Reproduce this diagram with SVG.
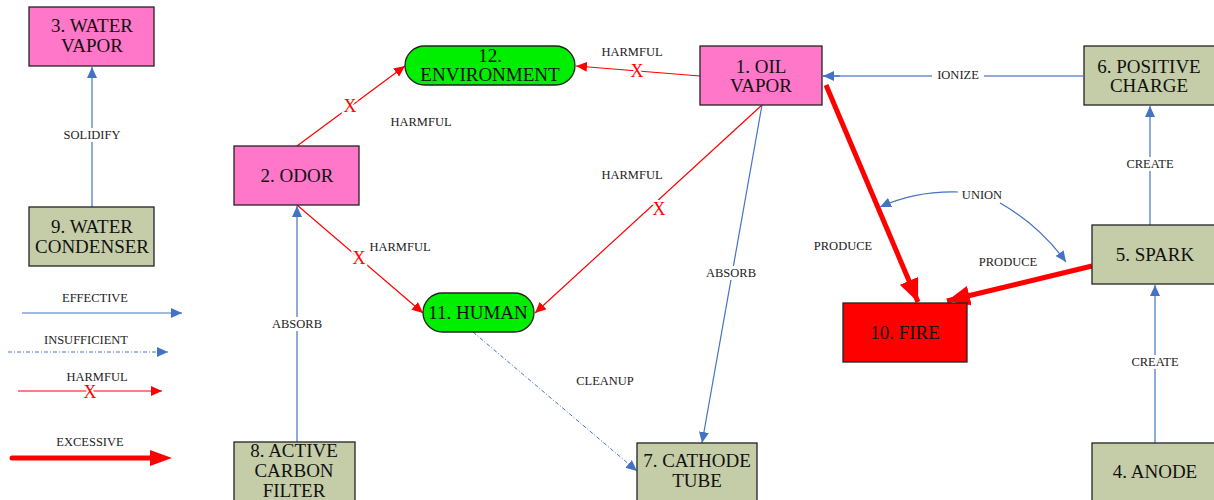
<svg xmlns="http://www.w3.org/2000/svg" width="1214" height="500" viewBox="0 0 1214 500">
<style>
.box{stroke:#222;stroke-width:1.3}
.pink{fill:#FF77C8}
.olive{fill:#C5CDA8}
.green{fill:#00EE00}
.red{fill:#FF0000}
.nt{font-family:"Liberation Serif","Times New Roman",serif;font-size:19px;fill:#111;text-anchor:middle}
.lb{font-family:"Liberation Serif","Times New Roman",serif;font-size:12.5px;fill:#222;text-anchor:middle}
.bl{fill:none;stroke:#4472C4;stroke-width:1.2}
.bll{fill:none;stroke:#8EA9DB;stroke-width:2}
.dsh{fill:none;stroke:#4472C4;stroke-width:1;stroke-dasharray:4 2 1 2}
.hr{fill:none;stroke:#FF0000;stroke-width:1.2}
.ex{fill:none;stroke:#FF0000;stroke-width:5}
.xm{font-family:"Liberation Serif","Times New Roman",serif;font-size:18px;fill:#FF0000;text-anchor:middle;stroke:#fff;stroke-width:4;paint-order:stroke}
.bg{fill:#fff}
</style>
<defs>
<marker id="ab" markerUnits="userSpaceOnUse" markerWidth="12" markerHeight="10" refX="11" refY="5" orient="auto-start-reverse"><path d="M0,0 L11,5 L0,10 Z" fill="#4472C4"/></marker>
<marker id="ar" markerUnits="userSpaceOnUse" markerWidth="12" markerHeight="10" refX="11" refY="5" orient="auto"><path d="M0,0 L11,5 L0,10 Z" fill="#FF0000"/></marker>
<marker id="aex" markerUnits="userSpaceOnUse" markerWidth="24" markerHeight="20" refX="23" refY="10" orient="auto"><path d="M0,0 L23,10 L0,20 Z" fill="#FF0000"/></marker>
</defs>
<rect width="1214" height="500" fill="#fff"/>

<g id="connectors">
<!-- 9 -> 3 -->
<line class="bl" x1="92" y1="207" x2="92" y2="67" marker-end="url(#ab)"/>
<rect class="bg" x="60" y="128" width="64" height="14"/>
<text class="lb" x="92" y="139">SOLIDIFY</text>
<!-- 8 -> 2 -->
<line class="bl" x1="297" y1="442" x2="297" y2="206" marker-end="url(#ab)"/>
<rect class="bg" x="268" y="317" width="58" height="14"/>
<text class="lb" x="297" y="328">ABSORB</text>
<!-- 2 -> 12 -->
<line class="hr" x1="297" y1="146" x2="405" y2="66" marker-end="url(#ar)"/>
<text class="xm" x="350" y="112">X</text>
<text class="lb" x="421" y="126">HARMFUL</text>
<!-- 1 -> 12 -->
<line class="hr" x1="700" y1="76" x2="576" y2="66" marker-end="url(#ar)"/>
<text class="xm" x="637" y="77">X</text>
<text class="lb" x="632" y="56">HARMFUL</text>
<!-- 2 -> 11 -->
<line class="hr" x1="297" y1="205" x2="423" y2="313" marker-end="url(#ar)"/>
<text class="xm" x="359" y="264">X</text>
<text class="lb" x="400" y="251">HARMFUL</text>
<!-- 1 -> 11 -->
<line class="hr" x1="762" y1="105" x2="535" y2="313" marker-end="url(#ar)"/>
<text class="xm" x="659" y="215">X</text>
<text class="lb" x="632" y="179">HARMFUL</text>
<!-- 1 -> 7 -->
<line class="bl" x1="762" y1="105" x2="702" y2="443" marker-end="url(#ab)"/>
<rect class="bg" x="703" y="266" width="56" height="14"/>
<text class="lb" x="731" y="277">ABSORB</text>
<!-- 11 -> 7 -->
<line class="dsh" x1="473" y1="332" x2="637" y2="471" marker-end="url(#ab)"/>
<text class="lb" x="605" y="385">CLEANUP</text>
<!-- 6 -> 1 -->
<line class="bll" x1="1083" y1="76" x2="823" y2="76"/>
<line class="bl" x1="840" y1="76" x2="823" y2="76" marker-end="url(#ab)"/>
<rect class="bg" x="932" y="68" width="52" height="14"/>
<text class="lb" x="958" y="79">IONIZE</text>
<!-- 5 -> 6 -->
<line class="bl" x1="1150" y1="225" x2="1150" y2="106" marker-end="url(#ab)"/>
<rect class="bg" x="1120" y="157" width="60" height="14"/>
<text class="lb" x="1150" y="168">CREATE</text>
<!-- 4 -> 5 -->
<line class="bll" x1="1155" y1="443" x2="1155" y2="300"/>
<line class="bl" x1="1155" y1="300" x2="1155" y2="285" marker-end="url(#ab)"/>
<rect class="bg" x="1125" y="355" width="60" height="14"/>
<text class="lb" x="1155" y="366">CREATE</text>
<!-- 1 -> 10 excessive -->
<line class="ex" x1="826" y1="85" x2="918" y2="302" marker-end="url(#aex)"/>
<text class="lb" x="843" y="250">PRODUCE</text>
<!-- 5 -> 10 excessive -->
<line class="ex" x1="1092" y1="266" x2="947" y2="301" marker-end="url(#aex)"/>
<text class="lb" x="1008" y="266">PRODUCE</text>
<!-- UNION -->
<path class="bl" d="M958,192 C925,191 900,198 880,207" marker-end="url(#ab)"/>
<path class="bl" d="M1000,203 C1030,220 1050,240 1066,262" marker-end="url(#ab)"/>
<text class="lb" x="982" y="199">UNION</text>
</g>

<g id="legend">
<text class="lb" x="95" y="302">EFFECTIVE</text>
<line class="bl" x1="22" y1="313" x2="182" y2="313" marker-end="url(#ab)"/>
<text class="lb" x="86" y="344">INSUFFICIENT</text>
<line class="dsh" x1="8" y1="352" x2="168" y2="352" marker-end="url(#ab)"/>
<text class="lb" x="97" y="381">HARMFUL</text>
<line class="hr" x1="18" y1="391" x2="162" y2="391" marker-end="url(#ar)"/>
<text class="xm" x="90" y="398">X</text>
<text class="lb" x="90" y="446">EXCESSIVE</text>
<line x1="12" y1="458" x2="150" y2="458" stroke="#FF0000" stroke-width="5" stroke-linecap="round"/>
<path d="M150,450 L172,458 L150,466 Z" fill="#FF0000"/>
</g>

<g id="n3"><rect class="box pink" x="29" y="7" width="125" height="59"/><text class="nt" x="92" y="32">3. WATER</text><text class="nt" x="92" y="52">VAPOR</text></g>
<g id="n9"><rect class="box olive" x="29" y="207" width="125" height="59"/><text class="nt" x="92" y="233">9. WATER</text><text class="nt" x="92" y="253">CONDENSER</text></g>
<g id="n2"><rect class="box pink" x="234" y="146" width="125" height="59"/><text class="nt" x="297" y="182">2. ODOR</text></g>
<g id="n12"><rect class="box green" x="405" y="46" width="170" height="39" rx="19.5"/><text class="nt" x="490" y="62">12.</text><text class="nt" x="490" y="81">ENVIRONMENT</text></g>
<g id="n1"><rect class="box pink" x="700" y="46" width="122" height="59"/><text class="nt" x="761" y="73">1. OIL</text><text class="nt" x="761" y="92">VAPOR</text></g>
<g id="n6"><rect class="box olive" x="1084" y="46" width="132" height="59"/><text class="nt" x="1149" y="73">6. POSITIVE</text><text class="nt" x="1149" y="92">CHARGE</text></g>
<g id="n5"><rect class="box olive" x="1092" y="225" width="124" height="59"/><text class="nt" x="1155" y="261">5. SPARK</text></g>
<g id="n10"><rect class="box red" x="843" y="303" width="124" height="59"/><text class="nt" x="905" y="339">10. FIRE</text></g>
<g id="n11"><rect class="box green" x="423" y="293" width="111" height="39" rx="19.5"/><text class="nt" x="478" y="319">11. HUMAN</text></g>
<g id="n8"><rect class="box olive" x="234" y="442" width="121" height="62"/><text class="nt" x="294" y="457">8. ACTIVE</text><text class="nt" x="294" y="477">CARBON</text><text class="nt" x="294" y="497">FILTER</text></g>
<g id="n7"><rect class="box olive" x="637" y="443" width="120" height="62"/><text class="nt" x="697" y="467">7. CATHODE</text><text class="nt" x="697" y="487">TUBE</text></g>
<g id="n4"><rect class="box olive" x="1092" y="443" width="124" height="62"/><text class="nt" x="1155" y="478">4. ANODE</text></g>
</svg>
